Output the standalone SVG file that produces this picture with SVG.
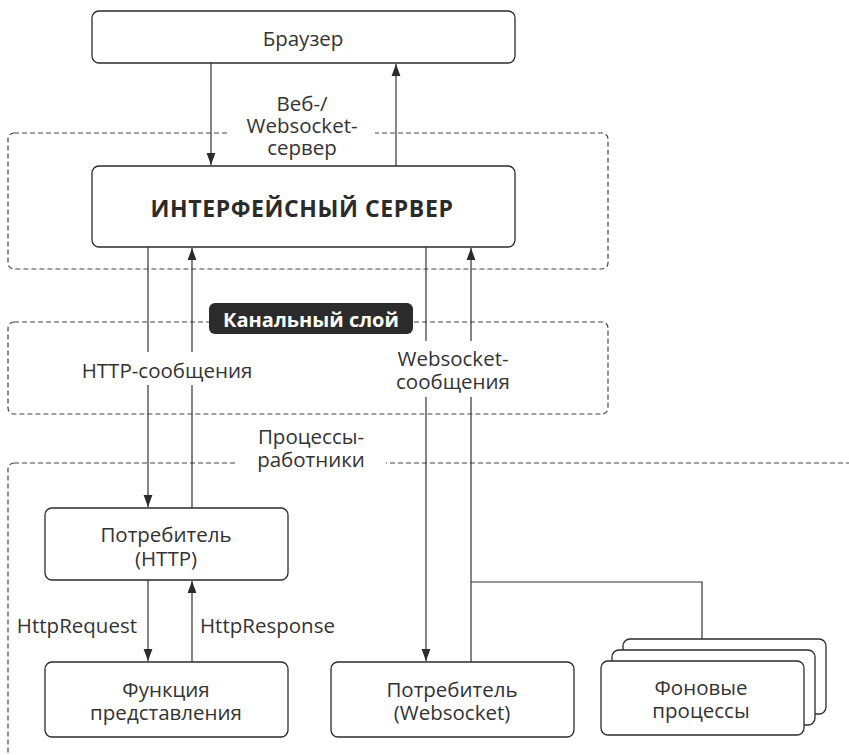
<svg xmlns="http://www.w3.org/2000/svg" width="849" height="755" viewBox="0 0 849 755">
<defs>
<style>
.box{fill:#fff;stroke:#2b2b2b;stroke-width:1.3}
.dash{fill:none;stroke:#444;stroke-width:1.2;stroke-dasharray:5 3}
.ln{fill:none;stroke:#333;stroke-width:1.2}
.t{font-family:"Open Sans","Noto Sans",sans-serif;font-size:20.5px;fill:#333;text-anchor:middle}
.bg{fill:#fff}
</style>
<marker id="ah" viewBox="0 0 12 10" refX="12" refY="5" markerWidth="12" markerHeight="10" markerUnits="userSpaceOnUse" orient="auto">
<path d="M0,0.6 L12,5 L0,9.4 Z" fill="#2b2b2b"/>
</marker>
</defs>
<rect width="849" height="755" fill="#fff"/>
<g id="regions">
<rect class="dash" x="8" y="133" width="600" height="136" rx="6"/>
<rect class="dash" x="8" y="322" width="600" height="92" rx="6"/>
<rect class="dash" x="8" y="463" width="900" height="400" rx="6"/>
</g>
<g id="connectors">
<line class="ln" x1="211" y1="63" x2="211" y2="165" marker-end="url(#ah)"/>
<line class="ln" x1="396" y1="166" x2="396" y2="64" marker-end="url(#ah)"/>
<line class="ln" x1="148" y1="247" x2="148" y2="507" marker-end="url(#ah)"/>
<line class="ln" x1="192" y1="508" x2="192" y2="248" marker-end="url(#ah)"/>
<line class="ln" x1="426" y1="247" x2="426" y2="661" marker-end="url(#ah)"/>
<line class="ln" x1="471" y1="662" x2="471" y2="248" marker-end="url(#ah)"/>
<polyline class="ln" points="471,582 702,582 702,639"/>
<line class="ln" x1="148" y1="580" x2="148" y2="661" marker-end="url(#ah)"/>
<line class="ln" x1="192" y1="662" x2="192" y2="581" marker-end="url(#ah)"/>
</g>
<g id="labels">
<rect class="bg" x="230" y="88" width="145" height="72"/>
<text class="t" x="302" y="111">Веб-/<tspan x="302" dy="21.5">Websocket-</tspan><tspan x="302" dy="22">сервер</tspan></text>
<rect class="bg" x="74" y="352" width="188" height="33"/>
<text class="t" x="167" y="378">HTTP-сообщения</text>
<rect class="bg" x="390" y="341" width="126" height="56"/>
<text class="t" x="453" y="366">Websocket-<tspan x="453" dy="23">сообщения</tspan></text>
<rect class="bg" x="238" y="422" width="148" height="52"/>
<text class="t" x="311" y="444">Процессы-<tspan x="311" dy="23">работники</tspan></text>
<text class="t" x="137" y="633" style="text-anchor:end">HttpRequest</text>
<text class="t" x="200" y="633" style="text-anchor:start">HttpResponse</text>
</g>
<g id="channel-label">
<rect x="209" y="303" width="204" height="31" rx="6" fill="#2b2b2b"/>
<text x="311" y="327" style="font-family:'Open Sans','Noto Sans',sans-serif;font-size:20px;font-weight:bold;fill:#fff;text-anchor:middle">Канальный слой</text>
</g>
<g id="browser">
<rect class="box" x="92" y="11" width="423" height="52" rx="7"/>
<text class="t" x="303" y="46">Браузер</text>
</g>
<g id="interface-server">
<rect class="box" x="92" y="166" width="423" height="81" rx="7"/>
<text x="302" y="217" style="font-family:'Open Sans','Noto Sans',sans-serif;font-size:23px;font-weight:bold;fill:#2b2b2b;text-anchor:middle;letter-spacing:0.6px">ИНТЕРФЕЙСНЫЙ СЕРВЕР</text>
</g>
<g id="consumer-http">
<rect class="box" x="45" y="508" width="243" height="72" rx="7"/>
<text class="t" x="166" y="542">Потребитель<tspan x="166" dy="24">(HTTP)</tspan></text>
</g>
<g id="view-function">
<rect class="box" x="45" y="662" width="243" height="75" rx="7"/>
<text class="t" x="166" y="697">Функция<tspan x="166" dy="23">представления</tspan></text>
</g>
<g id="consumer-websocket">
<rect class="box" x="331" y="662" width="243" height="75" rx="7"/>
<text class="t" x="452" y="697">Потребитель<tspan x="452" dy="23">(Websocket)</tspan></text>
</g>
<g id="background-processes">
<rect class="box" x="623" y="639" width="203" height="75" rx="7"/>
<rect class="box" x="612" y="650" width="203" height="75" rx="7"/>
<rect class="box" x="601" y="661" width="203" height="74" rx="7"/>
<text class="t" x="701" y="695">Фоновые<tspan x="701" dy="23">процессы</tspan></text>
</g>
</svg>
